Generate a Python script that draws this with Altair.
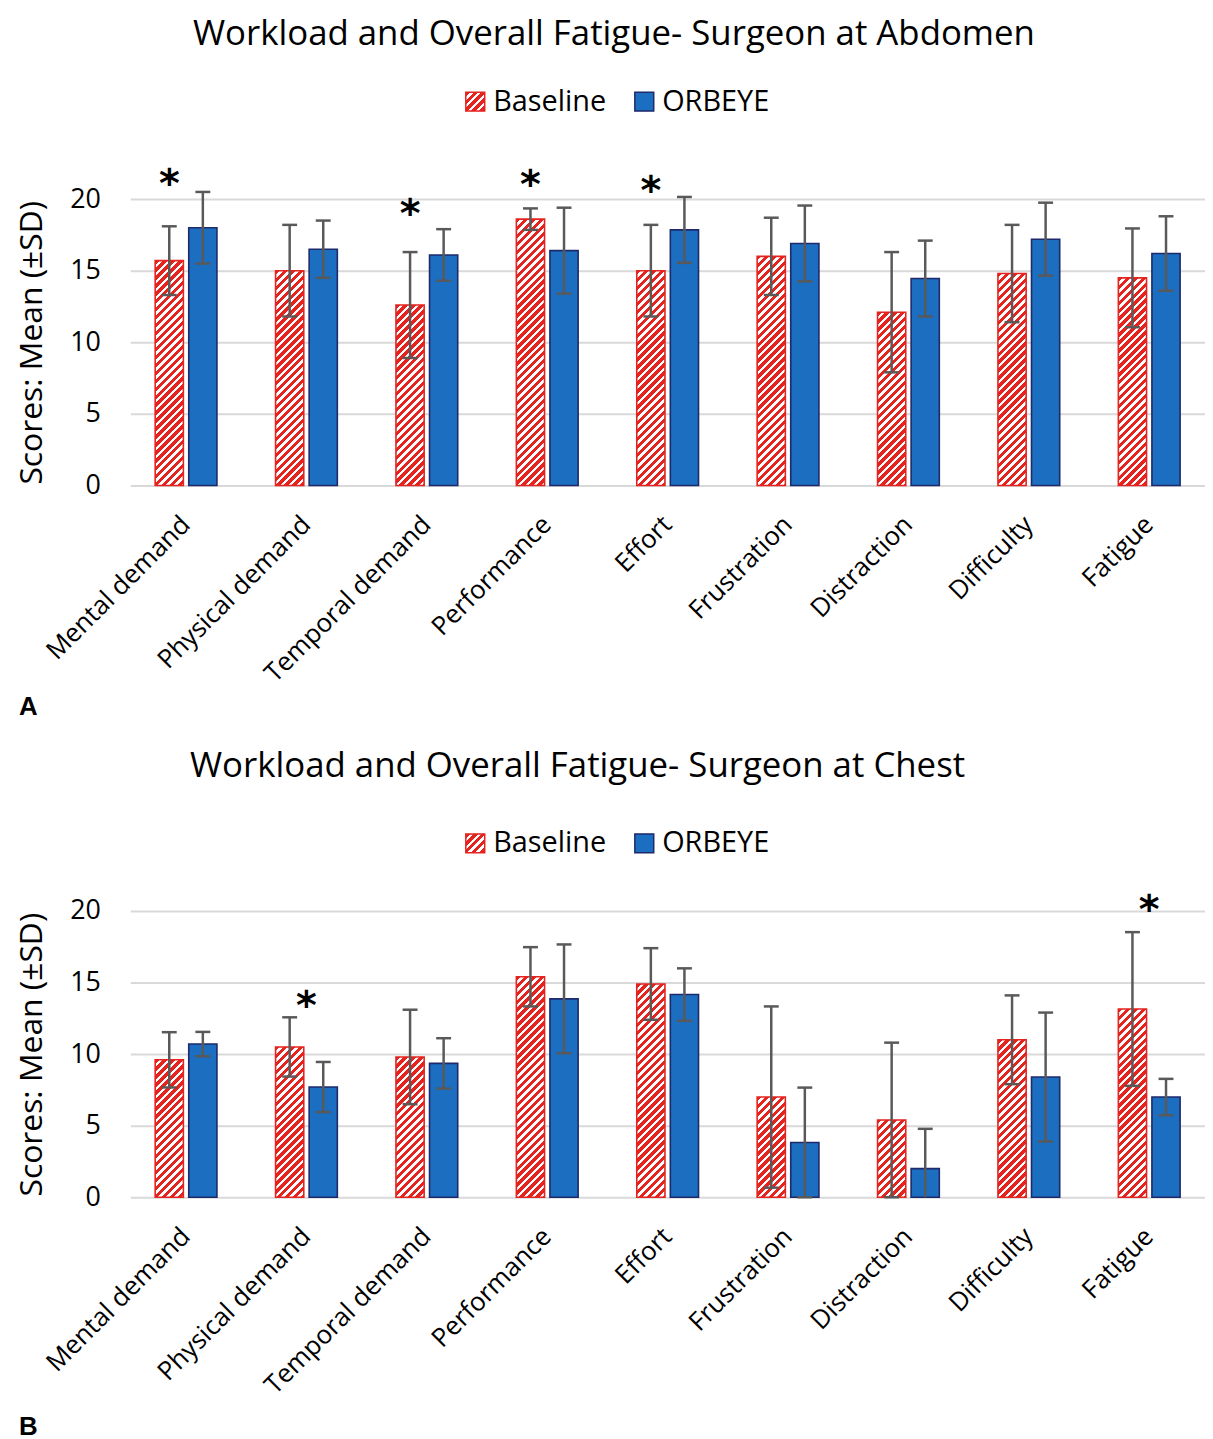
import math
import altair as alt

# ---------------- data ----------------
categories = ["Mental demand", "Physical demand", "Temporal demand", "Performance",
              "Effort", "Frustration", "Distraction", "Difficulty", "Fatigue"]
series = ["Baseline", "ORBEYE"]

# Panel A: surgeon at abdomen
a_baseline_mean = [15.7, 15.0, 12.6, 18.6, 15.0, 16.0, 12.1, 14.8, 14.5]
a_baseline_sd = [2.4, 3.2, 3.7, 0.75, 3.2, 2.7, 4.2, 3.4, 3.45]
a_orbeye_mean = [18.0, 16.5, 16.1, 16.4, 17.85, 16.9, 14.45, 17.2, 16.2]
a_orbeye_sd = [2.5, 2.0, 1.8, 3.0, 2.3, 2.65, 2.65, 2.55, 2.6]
a_sig_categories = ["Mental demand", "Temporal demand", "Performance", "Effort"]
a_sig_y = [21.4, 19.3, 21.3, 20.9]

# Panel B: surgeon at chest
b_baseline_mean = [9.6, 10.5, 9.8, 15.4, 14.9, 7.0, 5.4, 11.0, 13.15]
b_baseline_sd = [1.93, 2.07, 3.3, 2.07, 2.5, 6.33, 5.4, 3.1, 5.37]
b_orbeye_mean = [10.7, 7.7, 9.35, 13.86, 14.16, 3.83, 2.0, 8.4, 7.0]
b_orbeye_sd = [0.85, 1.75, 1.76, 3.8, 1.83, 3.83, 2.78, 4.5, 1.27]
b_sig_categories = ["Physical demand", "Fatigue"]
b_sig_y = [13.7, 20.4]

title_a = "Workload and Overall Fatigue- Surgeon at Abdomen"
title_b = "Workload and Overall Fatigue- Surgeon at Chest"
y_title = "Scores: Mean (±SD)"

# ---------------- style ----------------
FONT = "Open Sans"
RED = "#E5231F"
BLUE = "#1B6EC0"
NAVY = "#1F2A6B"
ERR = "#595959"
GRID = "#D9D9D9"

PLOT_W = 1081
PLOT_H = 288
Y_MAX = 20
PAD_INNER = 0.487
PAD_OUTER = 0.2067
SUB_PAD = 0.16
STEP = PLOT_W / (len(categories) - PAD_INNER + 2 * PAD_OUTER)
BAR_W = STEP * (1 - PAD_INNER) / (2 - SUB_PAD) * (1 - SUB_PAD)
PERIOD = 8.0
RED_FRAC = 0.55


def hatch(w, h, color=RED, other="#ffffff"):
    """Diagonal (upward) stripe fill as a linear gradient in bbox units."""
    h = max(h, 1.0)
    L = w + h
    a = w * L / (w * w + h * h)
    b = h * L / (w * w + h * h)
    n = int(math.ceil(L / PERIOD))
    stops = []
    for i in range(n):
        s0 = i * PERIOD
        s1 = s0 + PERIOD * RED_FRAC
        s2 = s0 + PERIOD
        for lo, hi, c in ((s0, s1, color), (s1, s2, other)):
            o1 = min(1.0, lo / L)
            o2 = min(1.0, hi / L)
            stops.append({"offset": round(o1, 5), "color": c})
            stops.append({"offset": round(o2, 5), "color": c})
    return {"gradient": "linear", "x1": 0, "y1": 0, "x2": round(a, 6), "y2": round(b, 6), "stops": stops}


def make_rows(bm, bs, om, osd):
    rows = []
    for i, c in enumerate(categories):
        for s, m, sd in (("Baseline", bm[i], bs[i]), ("ORBEYE", om[i], osd[i])):
            rows.append({
                "cat": c, "series": s, "mean": m,
                "lo": max(0.0, m - sd), "hi": m + sd,
                "lowcap": (m - sd) >= 0,
                "paint": hatch(BAR_W, m * PLOT_H / Y_MAX) if s == "Baseline" else BLUE,
            })
    return rows


def bars_chart(rows, sig_cats, sig_y, sig_on_baseline, letter, letter_offset):
    x = alt.X("cat:N", sort=categories,
              scale=alt.Scale(domain=categories, paddingInner=PAD_INNER, paddingOuter=PAD_OUTER),
              axis=alt.Axis(title=None, labelAngle=-45, labelAlign="right", labelBaseline="middle",
                            labelFontSize=26, labelFont=FONT, labelColor="#000000",
                            labelPadding=35, labelOffset=0, ticks=False, domain=False,
                            labelLimit=0, grid=False))
    xo = alt.XOffset("series:N", scale=alt.Scale(domain=series, paddingInner=SUB_PAD, paddingOuter=0))
    y = alt.Y("mean:Q", scale=alt.Scale(domain=[0, Y_MAX], nice=False),
              axis=alt.Axis(values=[0, 5, 10, 15, 20], title=y_title, grid=True, gridColor=GRID,
                            gridWidth=2, domain=False, ticks=False, labelFontSize=27, labelFont=FONT,
                            labelColor="#000000", labelPadding=30, titleFont=FONT, titleFontSize=32,
                            titleFontWeight="normal", titleColor="#000000", titlePadding=21))
    base = alt.Chart(alt.Data(values=rows))
    bars = base.mark_bar(strokeWidth=1.6).encode(
        x=x, xOffset=xo, y=y,
        fill=alt.Fill("paint:N", scale=None),
        stroke=alt.Stroke("series:N", scale=alt.Scale(domain=series, range=[RED, NAVY]), legend=None),
    )
    rules = base.mark_rule(color=ERR, strokeWidth=2.5).encode(
        x=alt.X("cat:N", sort=categories), xOffset=alt.XOffset("series:N"),
        y=alt.Y("lo:Q"), y2="hi:Q")
    cap_hi = base.mark_tick(color=ERR, size=15, thickness=2.5, opacity=1).encode(
        x=alt.X("cat:N", sort=categories), xOffset=alt.XOffset("series:N"), y=alt.Y("hi:Q"))
    cap_lo = base.mark_tick(color=ERR, size=15, thickness=2.5, opacity=1).encode(
        x=alt.X("cat:N", sort=categories), xOffset=alt.XOffset("series:N"), y=alt.Y("lo:Q")
    ).transform_filter("datum.lowcap")

    sig_rows = [{"cat": c, "ys": v, "series": "Baseline"} for c, v in zip(sig_cats, sig_y)]
    star_enc = dict(x=alt.X("cat:N", sort=categories), y=alt.Y("ys:Q"))
    if sig_on_baseline:
        star_enc["xOffset"] = alt.XOffset("series:N")
    stars = alt.Chart(alt.Data(values=sig_rows)).mark_text(
        text="*", font="DejaVu Sans", fontWeight="bold", fontSize=40, dy=6, color="#000000"
    ).encode(**star_enc)

    return alt.layer(bars, rules, cap_hi, cap_lo, stars).properties(
        width=PLOT_W, height=PLOT_H,
        title=alt.TitleParams(letter, orient="bottom", anchor="start", frame="bounds",
                              font="Liberation Sans", fontWeight="bold", fontSize=26,
                              color="#000000", dx=3, offset=letter_offset),
    )


def legend_chart(title_text, title_dx, offset, height):
    rows = [{"series": "Baseline", "paint": hatch(19, 19)}, {"series": "ORBEYE", "paint": BLUE}]
    base = alt.Chart(alt.Data(values=rows)).encode(
        x=alt.X("series:N", scale=alt.Scale(domain=series, range=[347, 517], padding=0), axis=None))
    sq = base.mark_square(size=361, strokeWidth=1.5, opacity=1).encode(
        fill=alt.Fill("paint:N", scale=None),
        stroke=alt.Stroke("series:N", scale=alt.Scale(domain=series, range=[RED, NAVY]), legend=None))
    txt = base.mark_text(align="left", baseline="middle", dx=18, fontSize=29, font=FONT,
                         color="#000000").encode(text="series:N")
    return alt.layer(sq, txt).properties(
        width=PLOT_W, height=height,
        title=alt.TitleParams(title_text, anchor="start", frame="group", dx=title_dx, fontSize=35,
                              font=FONT, fontWeight="normal", color="#000000", offset=offset),
    )


rows_a = make_rows(a_baseline_mean, a_baseline_sd, a_orbeye_mean, a_orbeye_sd)
rows_b = make_rows(b_baseline_mean, b_baseline_sd, b_orbeye_mean, b_orbeye_sd)

leg_a = legend_chart(title_a, 63, 16, 68)
bars_a = bars_chart(rows_a, a_sig_categories, a_sig_y, True, "A", 7)
leg_b = legend_chart(title_b, 60, 41, 38)
bars_b = bars_chart(rows_b, b_sig_categories, b_sig_y, False, "B", 16)

chart = alt.vconcat(leg_a, bars_a, leg_b, bars_b, spacing=29, bounds="full").properties(
    padding={"left": 8, "top": 5, "right": 0, "bottom": 5},
    background="#ffffff",
).configure_view(stroke=None)

chart.save("out.html", embed_options={"renderer": "svg", "actions": False})
